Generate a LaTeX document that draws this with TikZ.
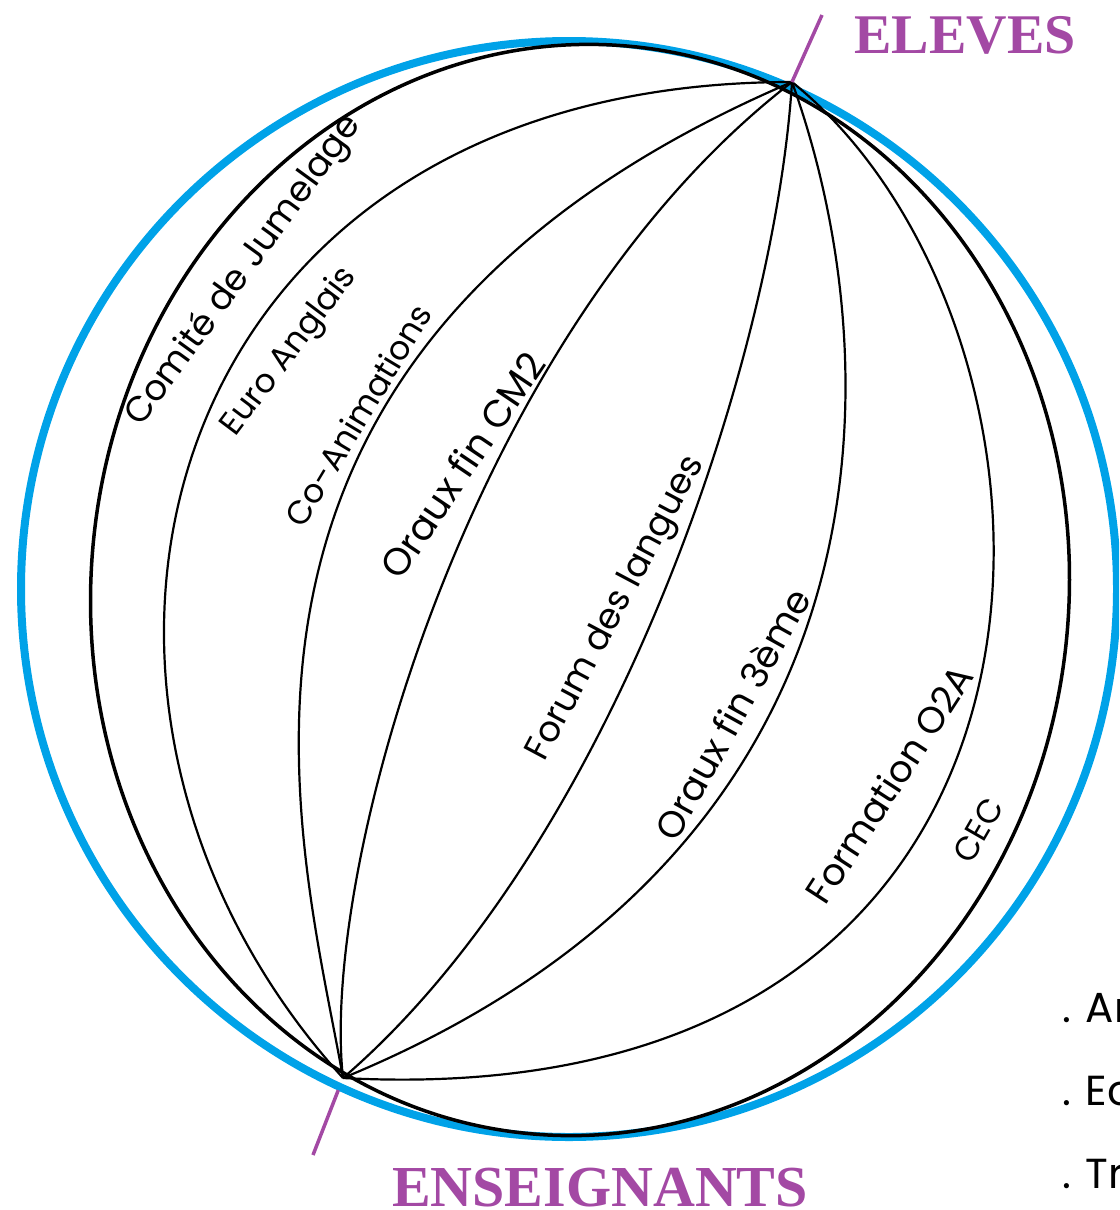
\documentclass[tikz,border=0pt]{standalone}
\usepackage{fontspec}
\setmainfont{Poppins}
\newfontfamily\titlefont{Liberation Serif}
\usetikzlibrary{positioning,calc}
\definecolor{paintblue}{HTML}{00A2E8}
\definecolor{paintpurple}{HTML}{A349A4}
\tikzset{
  rim/.style={line width=3.5pt, black},
  meridian/.style={line width=2.2pt, black},
  axis/.style={line width=3.5pt, paintpurple},
  pole/.style={font=\titlefont\bfseries\fontsize{56}{60}\selectfont, text=paintpurple, inner sep=0pt},
  action/.style={font=\fontsize{33}{38}\selectfont, inner sep=0pt},
  item/.style={font=\fontsize{42}{48}\selectfont, anchor=base west, inner sep=0pt},
}
\begin{document}
\begin{tikzpicture}[x=1pt,y=-1pt]
\useasboundingbox (0,0) rectangle (1119,1210);
\clip (0,0) rectangle (1119,1210);

% poles
\coordinate (eleves) at (792,82);
\coordinate (enseignants) at (343,1078);
\coordinate (axtop) at (822,15);
\coordinate (axbot) at (313,1155);

% globe
\draw[paintblue, line width=8pt] (569,589) circle [radius=548];
\begin{scope}[shift={(580,590)}, rotate=-5]
  \draw[rim] (0,0) ellipse [x radius=489, y radius=546];
\end{scope}

% meridians
\draw[meridian] (eleves) .. controls (150,82) and (0,700) .. (enseignants);
\draw[meridian] (eleves) .. controls (154,355) and (302,845) .. (enseignants);
\draw[meridian] (eleves) .. controls (470,330) and (320,870) .. (enseignants);
\draw[meridian] (eleves) .. controls (775,355) and (614,845) .. (enseignants);
\draw[meridian] (eleves) .. controls (890,355) and (910,845) .. (enseignants);
\draw[meridian] (eleves) .. controls (1100,330) and (1130,1120) .. (enseignants);

% axis
\draw[axis] (eleves) -- (axtop);
\draw[axis, shorten <=13pt] (enseignants) -- (axbot);
\node[pole] (eleveslabel) at (965,35) {ELEVES};
\node[pole, font=\titlefont\bfseries\fontsize{58}{62}\selectfont] (enseignantslabel) at (600,1188) {ENSEIGNANTS};

% actions
\node[action, rotate=54, font=\fontsize{35.5}{40}\selectfont] (comite) at (244,271) {Comité de Jumelage};
\node[action, rotate=53] (euro) at (290,352) {Euro Anglais};
\node[action, rotate=59] (coanim) at (358,415) {Co-Animations};
\node[action, rotate=56, font=\fontsize{38}{44}\selectfont] (oraux2) at (462,465) {Oraux fin CM2};
\node[action, rotate=62, font=\fontsize{35.5}{40}\selectfont] (forum) at (617,609) {Forum des langues};
\node[action, rotate=61, font=\fontsize{37}{42}\selectfont] (oraux3) at (732,714) {Oraux fin 3ème};
\node[action, rotate=57, font=\fontsize{37}{42}\selectfont] (formation) at (889,784) {Formation O2A};
\node[action, rotate=60] (cec) at (978,830) {CEC};

% list
\node[item] (an) at (1062,1022) {. An};
\node[item] (ec) at (1062,1105) {. Ec};
\node[item] (tr) at (1062,1188) {. Tr};
\end{tikzpicture}
\end{document}
